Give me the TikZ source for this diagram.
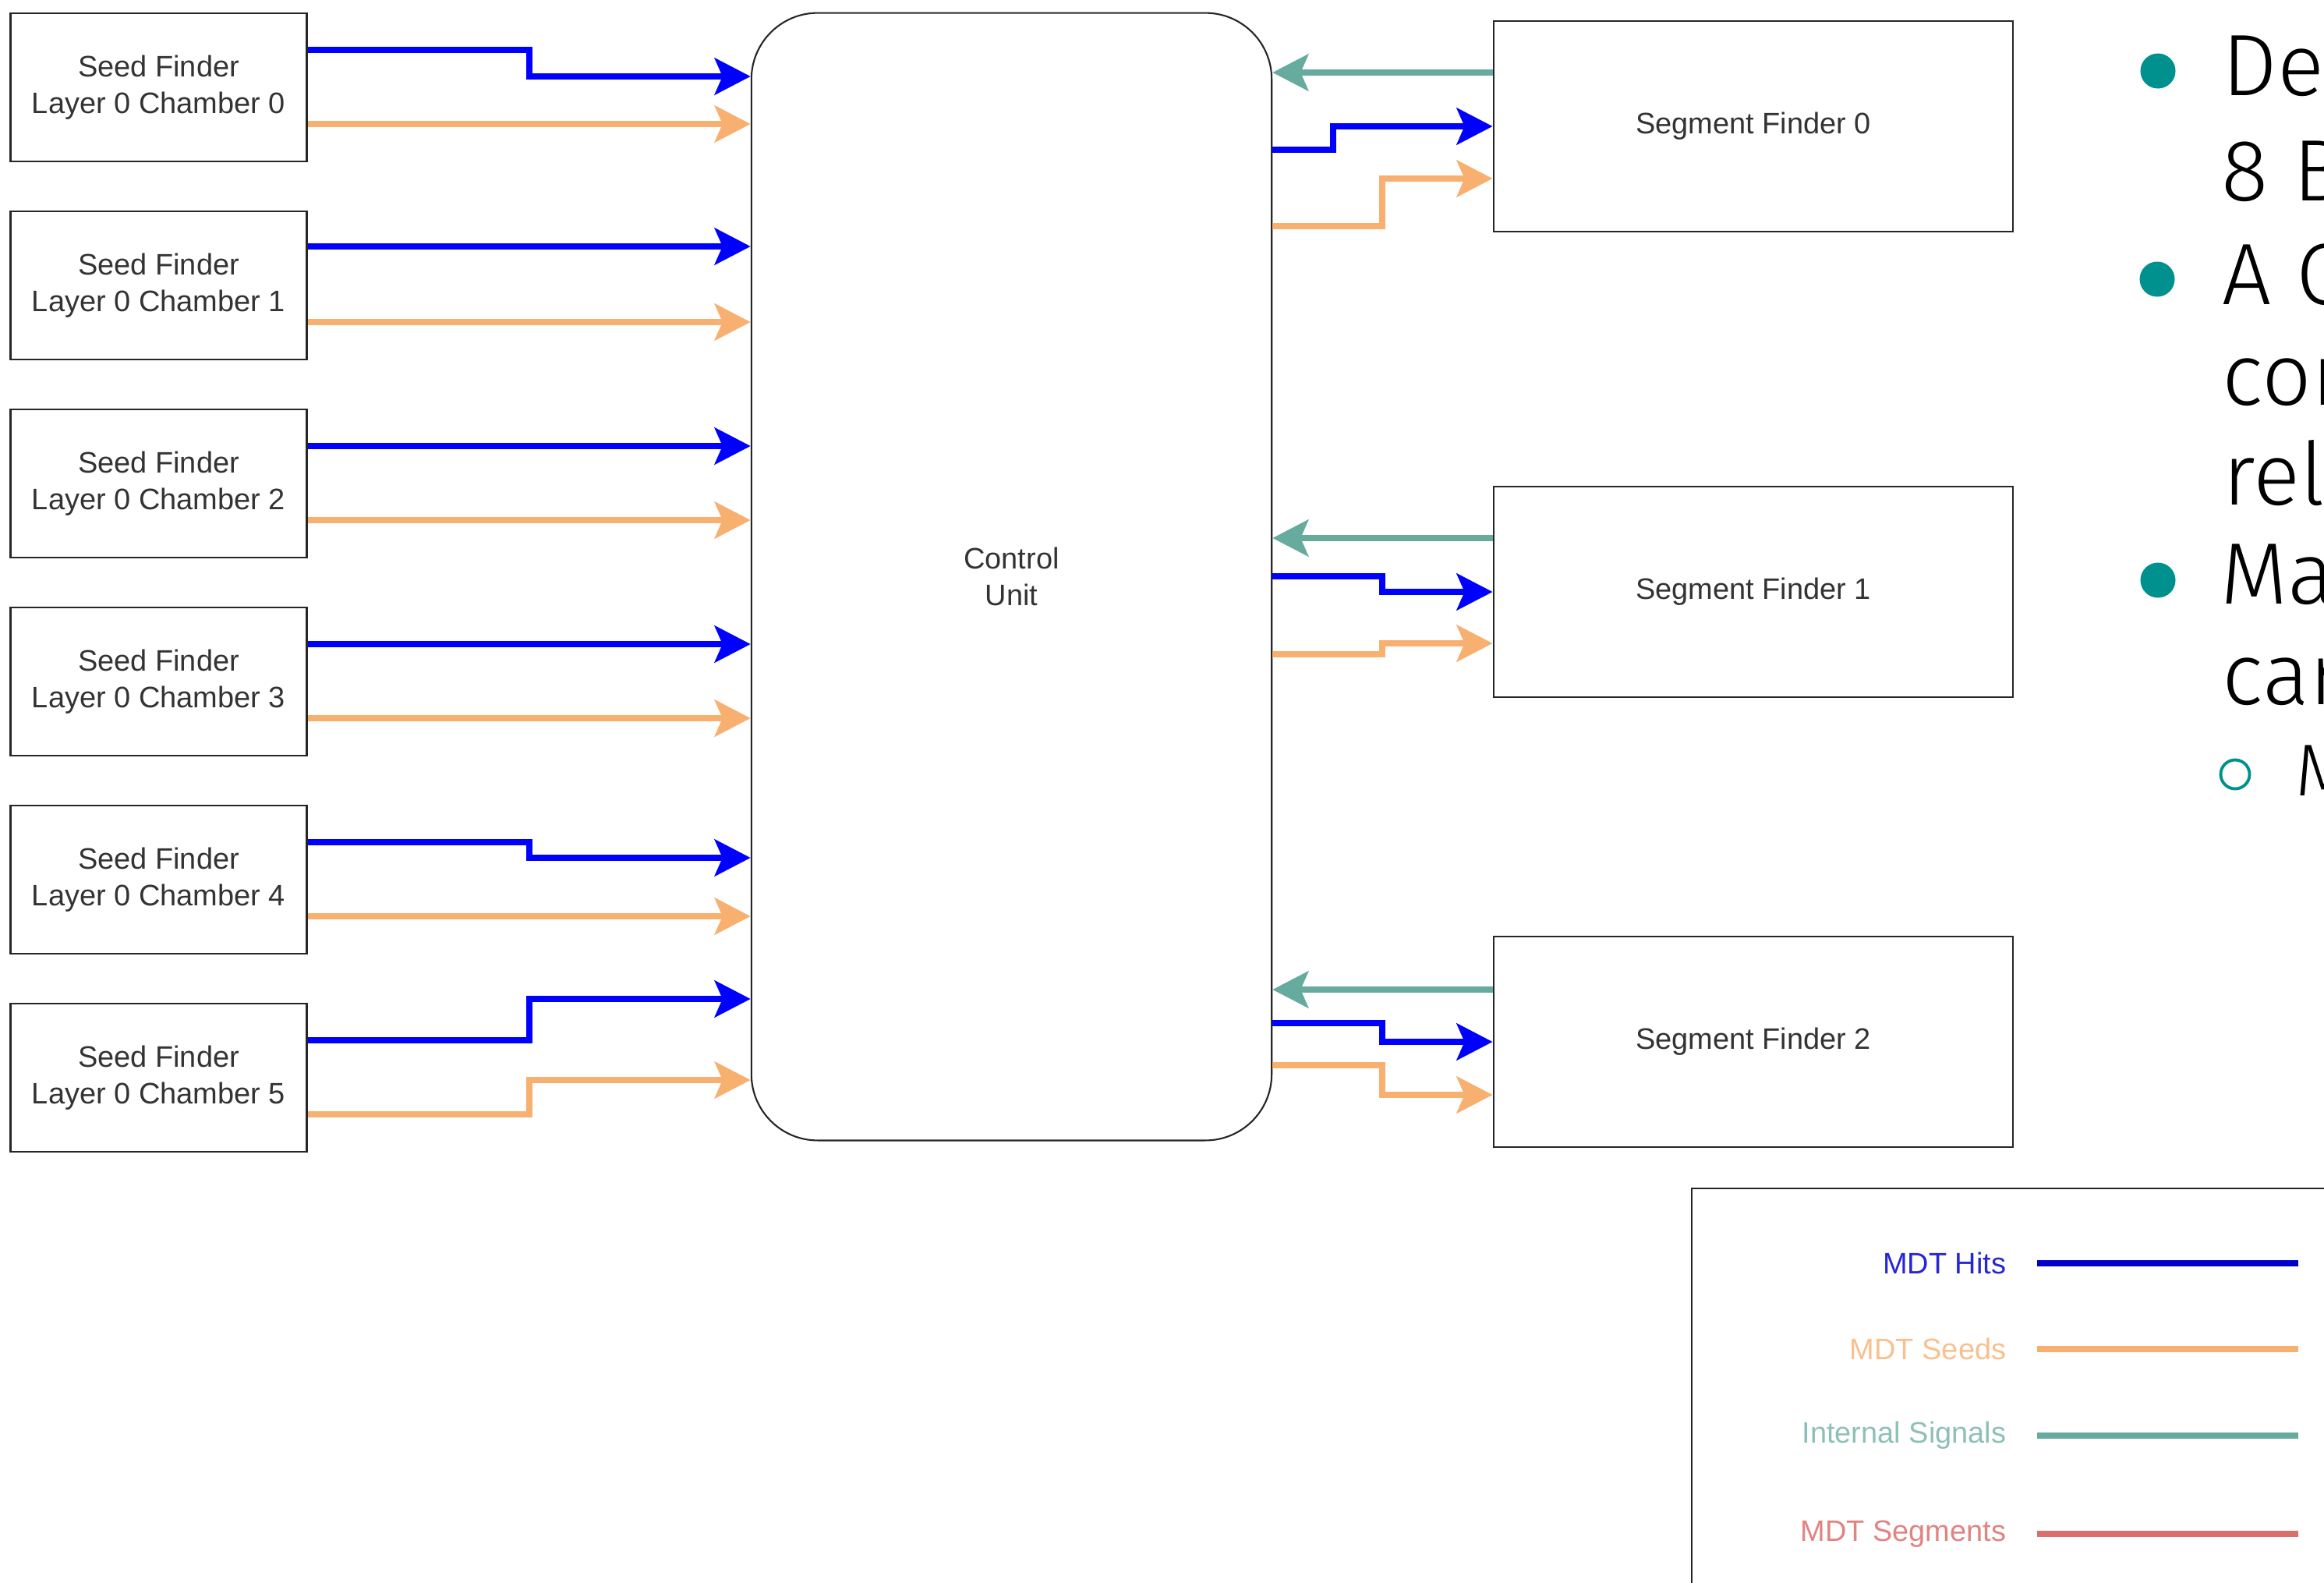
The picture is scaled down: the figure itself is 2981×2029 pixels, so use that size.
\documentclass[tikz,border=0pt]{standalone}
\usepackage{fontspec}
\setmainfont{Liberation Sans}
\newfontfamily\slidefont{Fira Sans Light}
\usetikzlibrary{arrows.meta,positioning}
\definecolor{hitblue}{HTML}{0000FF}
\definecolor{hitdark}{HTML}{0000CC}
\definecolor{seedorange}{HTML}{F8B071}
\definecolor{sigteal}{HTML}{67AB9F}
\definecolor{segred}{HTML}{DA6E6C}
\definecolor{dotteal}{HTML}{00918E}
\definecolor{boxtext}{HTML}{333333}

\begin{document}
\begin{tikzpicture}[x=0.01cm,y=-0.01cm,
  box/.style={draw=black!85,line width=0.7pt,align=center,text=boxtext,
    font=\fontsize{10.8}{13.5}\selectfont,inner sep=0pt},
  seedbox/.style={box,minimum width=3.8cm,minimum height=1.9cm},
  segbox/.style={box,minimum width=6.66cm,minimum height=2.7cm},
  wire/.style={line width=2.3pt,-{Stealth[length=4.6mm,width=4.7mm,inset=1mm]}},
  hits/.style={wire,hitblue},
  seeds/.style={wire,seedorange},
  sigs/.style={wire,sigteal},
  keytext/.style={anchor=east,font=\fontsize{10.8}{13.5}\selectfont,inner sep=0pt},
  dot/.style={circle,fill=dotteal,minimum size=0.45cm,inner sep=0pt},
  slideline/.style={anchor=base west,inner sep=0pt,font=\slidefont\fontsize{31.8}{38}\selectfont}]
  \useasboundingbox (0,0) rectangle (2981,2029);
  \clip (0,0) rectangle (2981,2029);

  % seed finders, layer 0
  \foreach \i in {0,...,5}
    \node[seedbox] (sf\i) at (203.5,{112+254*\i}) {Seed Finder\\Layer 0 Chamber \i};

  % control unit
  \node[box,rounded corners=0.85cm,minimum width=6.67cm,minimum height=14.45cm,
    line width=0.6pt] (cu) at (1297.5,739.5) {Control\\Unit};

  % segment finders
  \foreach \j/\y in {0/162,1/759,2/1336}
    \node[segbox] (seg\j) at (2249,\y) {Segment Finder \j};

  % seed finder -> control unit
  \foreach \i/\hs/\he/\os/\oe in {0/64/98/159/159,1/316/316/413/413,2/572/572/667/667,
      3/826/826/921/921,4/1080/1100/1175/1175,5/1334/1281/1429/1385} {
    \draw[hits] (sf\i.east |- 0,\hs) -| (679,\he) -- (cu.west |- 0,\he);
    \draw[seeds] (sf\i.east |- 0,\os) -| (679,\oe) -- (cu.west |- 0,\oe);
  }

  % control unit <-> segment finders
  \foreach \j/\ty/\bs/\bx/\be/\os/\oe in {0/93/192/1710/162/290/229,
      1/690/739/1773/759/839/825,2/1269/1312/1773/1336/1366/1404} {
    \draw[sigs] (seg\j.west |- 0,\ty) -- (cu.east |- 0,\ty);
    \draw[hits] (cu.east |- 0,\bs) -| (\bx,\be) -- (seg\j.west |- 0,\be);
    \draw[seeds] (cu.east |- 0,\os) -| (1773,\oe) -- (seg\j.west |- 0,\oe);
  }

  % legend
  \draw[line width=0.7pt,black!85] (2170,1524) rectangle (3100,2100);
  \foreach \y/\tc/\lc/\t/\n in {1620/{hitdark!85!white}/hitdark/MDT Hits/kHits,
      1730/{seedorange!80!white}/seedorange/MDT Seeds/kSeeds,
      1841/{sigteal!75!white}/sigteal/Internal Signals/kSigs,
      1967/{segred!85!white}/segred/MDT Segments/kSegs} {
    \node[keytext,text=\tc] (\n) at (2574,\y) {\t};
    \draw[\lc,line width=2.5pt] (2613,\y) -- (2948,\y);
  }

  % slide text beside the diagram
  \node[dot] (d1) at (2768,91) {};
  \node[dot] (d2) at (2767,358) {};
  \node[dot] (d3) at (2768,744) {};
  \node[circle,draw=dotteal,line width=1.1pt,minimum size=0.37cm,inner sep=0pt] (d4) at (2867,993) {};
  \node[slideline] (t1) at (2850,122) {Des};
  \node[slideline] (t2) at (2849,257) {8 Bi};
  \node[slideline] (t3) at (2850,390) {A Co};
  \node[slideline] (t4) at (2850,519) {con};
  \node[slideline] (t5) at (2851,647) {rela};
  \node[slideline] (t6) at (2848,774) {Mai};
  \node[slideline] (t7) at (2850,903) {car};
  \node[slideline,font=\slidefont\fontsize{26.8}{32}\selectfont] (t8) at (2944,1020) {M};
\end{tikzpicture}
\end{document}
